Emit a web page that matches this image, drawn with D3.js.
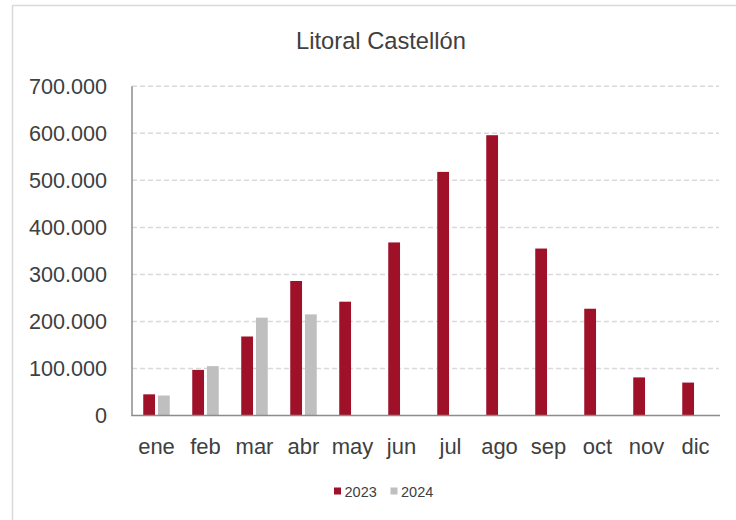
<!DOCTYPE html>
<html>
<head>
<meta charset="utf-8">
<script src="https://cdn.jsdelivr.net/npm/d3@7"></script>
<style>
  html, body { margin: 0; padding: 0; background: #fff; }
  svg text { font-family: "Liberation Sans", Arial, sans-serif; fill: #404040; }
</style>
</head>
<body>
<svg id="chart" width="736" height="520"></svg>
<script>
const months = ["ene","feb","mar","abr","may","jun","jul","ago","sep","oct","nov","dic"];
const seriesNames = ["2023","2024"];
const values2023 = [45000, 97000, 168000, 286000, 242000, 368000, 518000, 596000, 355000, 227000, 81000, 70000];
const values2024 = [42500, 105000, 208000, 215000, null, null, null, null, null, null, null, null];
const yTicks = [0, 100000, 200000, 300000, 400000, 500000, 600000, 700000];
const title = "Litoral Castellón";
const colors = {"2023": "#9E1128", "2024": "#BFBFBF"};

const svg = d3.select("#chart");
const fmt = v => v === 0 ? "0" : d3.format(",")(v).replace(/,/g, ".");

// outer border
svg.append("rect").attr("x", 12.5).attr("y", 5.5).attr("width", 740).attr("height", 530)
  .attr("fill", "none").attr("stroke", "#d9d9d9").attr("stroke-width", 1.5);

const x0 = 132, x1 = 720, yBottom = 415.5, yTop = 86.3;
const x = d3.scaleBand().domain(months).range([x0, x1]).paddingInner(0.459).paddingOuter(0.2295);
const xs = d3.scaleBand().domain(seriesNames).range([0, x.bandwidth()]).paddingInner(0.2);
const y = d3.scaleLinear().domain([0, 700000]).range([yBottom, yTop]);

// gridlines
svg.append("g").selectAll("line").data(yTicks.filter(t => t > 0)).join("line")
  .attr("x1", x0).attr("x2", 719).attr("y1", d => y(d)).attr("y2", d => y(d))
  .attr("stroke", "#d9d9d9").attr("stroke-width", 1.5).attr("stroke-dasharray", "5,3");

// y labels
const yAxis = d3.axisLeft(y).tickValues(yTicks).tickFormat(fmt).tickSize(0).tickPadding(25);
const gy = svg.append("g").attr("transform", `translate(${x0},0)`).call(yAxis);
gy.select(".domain").remove();
gy.selectAll("text").style("font-size", "21.6px").attr("fill", "#404040")
  .style("font-family", '"Liberation Sans", Arial, sans-serif');

// bars
const data = months.map((m, i) => ({m, vals: [{k: "2023", v: values2023[i]}, {k: "2024", v: values2024[i]}]}));
const groups = svg.append("g").selectAll("g").data(data).join("g")
  .attr("transform", d => `translate(${x(d.m)},0)`);
groups.selectAll("rect").data(d => d.vals.filter(e => e.v != null)).join("rect")
  .attr("x", d => xs(d.k)).attr("width", xs.bandwidth())
  .attr("y", d => y(d.v)).attr("height", d => y(0) - y(d.v))
  .attr("fill", d => colors[d.k]);

// axis lines
svg.append("line").attr("x1", x0).attr("x2", x0).attr("y1", yTop).attr("y2", yBottom)
  .attr("stroke", "#8c8c8c").attr("stroke-width", 1.5);
svg.append("line").attr("x1", x0 - 0.75).attr("x2", 720).attr("y1", yBottom).attr("y2", yBottom)
  .attr("stroke", "#8c8c8c").attr("stroke-width", 1.5);

// x labels
const xAxis = d3.axisBottom(x).tickSize(0).tickPadding(0);
const gx = svg.append("g").attr("transform", `translate(0,${yBottom})`).call(xAxis);
gx.select(".domain").remove();
gx.selectAll("text").attr("dy", null).attr("y", 38).style("font-size", "22px").attr("fill", "#404040")
  .style("font-family", '"Liberation Sans", Arial, sans-serif');

// title
svg.append("text").attr("x", 381).attr("y", 49).attr("text-anchor", "middle")
  .style("font-size", "23.7px").text(title);

// legend
const legendX = [334, 390.5];
const lg = svg.append("g").selectAll("g").data(seriesNames).join("g")
  .attr("transform", (d, i) => `translate(${legendX[i]},0)`);
lg.append("rect").attr("x", 0).attr("y", 487.5).attr("width", 7).attr("height", 7).attr("fill", d => colors[d]);
lg.append("text").attr("x", 10.5).attr("y", 496.5).style("font-size", "14.5px").text(d => d);
</script>
</body>
</html>
